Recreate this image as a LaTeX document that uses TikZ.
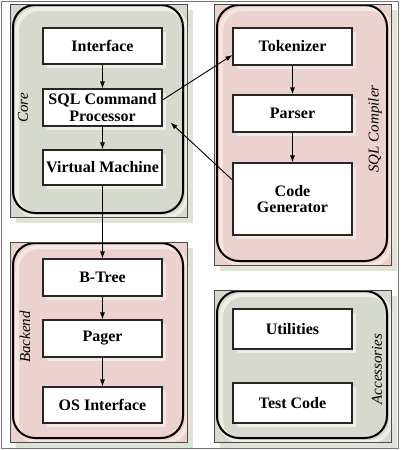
\documentclass[tikz,border=0pt]{standalone}
\usepackage{fontspec}
\setmainfont{Liberation Serif}
\usetikzlibrary{arrows.meta,shadows}
\definecolor{grayfill}{HTML}{D6D9CE}
\definecolor{pinkfill}{HTML}{ECD2CE}
\definecolor{graylite}{HTML}{EDEEE8}
\definecolor{pinklite}{HTML}{F6E6E3}
\definecolor{outshadow}{HTML}{DFE2DA}
\newcommand\drawgrp[6]{%
 \fill[outshadow] ({#1+6},{#2+6}) rectangle ({#3+6},{#4+6});
 \fill[#5] (#1,#2) rectangle (#3,#4);
 \draw[#6, line width=4pt, rounded corners=22pt] ({#1+7},{#2+5}) rectangle ({#3},{#4});
 \draw[black, line width=2pt, rounded corners=22pt] ({#1+3},{#2+1}) rectangle ({#3-4},{#4-4});
 \draw[black!70, line width=0.9pt] (#1,#2) rectangle (#3,#4);
}
\begin{document}
\begin{tikzpicture}[x=1pt,y=-1pt,
  box/.style={draw=black!85, line width=1.1pt, fill=white, minimum width=119pt,
    inner sep=0pt, align=center, font=\bfseries\fontsize{16}{16.5}\selectfont},
  gbox/.style={box, drop shadow={shadow xshift=4pt, shadow yshift=-4pt, fill=graylite, opacity=1}},
  pbox/.style={box, drop shadow={shadow xshift=4pt, shadow yshift=-4pt, fill=pinklite, opacity=1}},
  grplabel/.style={font=\itshape\fontsize{15}{15}\selectfont, rotate=90, inner sep=0pt},
  arr/.style={-{Latex[length=7pt,width=5pt]}, line width=0.9pt}]
\useasboundingbox (0,0) rectangle (400,450);
\fill[white] (0,0) rectangle (400,450);
\draw[black!55, line width=1pt] (1,1) rectangle (398,448);

\drawgrp{10}{4}{187}{217}{grayfill}{graylite}
\drawgrp{10}{242}{187}{442}{pinkfill}{pinklite}
\drawgrp{214}{4}{391}{265}{pinkfill}{pinklite}
\drawgrp{214}{290}{391}{442}{grayfill}{graylite}

\node[grplabel] (lcore) at (23,108) {Core};
\node[grplabel] (lback) at (25,337) {Backend};
\node[grplabel] (lsql) at (375,129) {SQL Compiler};
\node[grplabel] (lacc) at (377,369) {Accessories};

\node[gbox, minimum height=36pt] (iface) at (102.5,46) {Interface};
\node[gbox, minimum height=37pt] (sqlp) at (102.5,107.5) {SQL Command\\Processor};
\node[gbox, minimum height=35pt] (vm) at (102.5,167.5) {Virtual Machine};

\node[pbox, minimum height=37pt] (tok) at (292.5,46.5) {Tokenizer};
\node[pbox, minimum height=37pt] (parser) at (292.5,113.5) {Parser};
\node[pbox, minimum height=72pt] (cg) at (292.5,199) {Code\\Generator};

\node[pbox, minimum height=37pt] (btree) at (102.5,277.5) {B-Tree};
\node[pbox, minimum height=37pt] (pager) at (102.5,338.5) {Pager};
\node[pbox, minimum height=36pt] (osi) at (102.5,405) {OS Interface};

\node[gbox, minimum height=40pt] (util) at (292.5,329) {Utilities};
\node[gbox, minimum height=40pt] (test) at (292.5,403) {Test Code};

\draw[arr] (iface) -- (sqlp);
\draw[arr] (sqlp) -- (vm);
\draw[arr] (vm) -- (btree);
\draw[arr] (btree) -- (pager);
\draw[arr] (pager) -- (osi);
\draw[arr] (tok) -- (parser);
\draw[arr] (parser) -- (cg);
\draw[arr] ([yshift=7.5pt]sqlp.east) -- ([yshift=-8.5pt]tok.west);
\draw[arr] ([yshift=19pt]cg.west) -- ([xshift=8pt,yshift=4pt]sqlp.south east);
\end{tikzpicture}
\end{document}
